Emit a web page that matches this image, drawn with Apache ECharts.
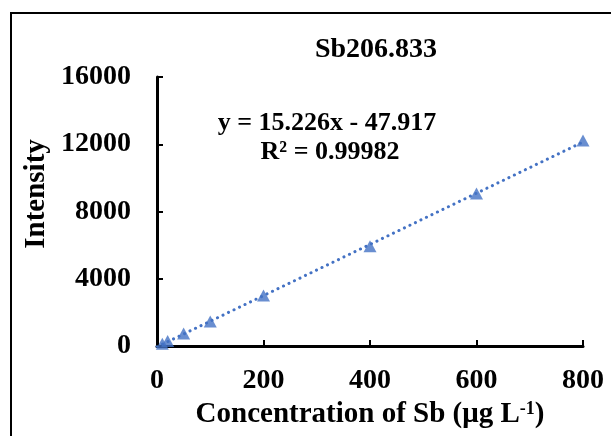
<!DOCTYPE html>
<html>
<head>
<meta charset="utf-8">
<style>
  html, body { margin: 0; padding: 0; background: #fff; }
  #chart { width: 611px; height: 436px; }
</style>
<script src="https://cdn.jsdelivr.net/npm/echarts@6/dist/echarts.min.js"></script>
</head>
<body>
<div id="chart"></div>
<script>
// calibration standards, Sb 206.833 nm
var concentration = [10, 20, 50, 100, 200, 400, 600, 800];
var intensity = [140, 290, 740, 1450, 3000, 5930, 9070, 12230];
// fitted trendline end points (y = 15.226x - 47.917)
var trendX = [0, 800];
var trendY = [-47.917, 12132.883];
var yTicks = [0, 4000, 8000, 12000, 16000];
var xTicks = [0, 200, 400, 600, 800];

var font = 'Liberation Serif, Times New Roman, serif';
var blue = '#4472C4';

var chart = echarts.init(document.getElementById('chart'));

var option = {
  animation: false,
  backgroundColor: '#fff',
  title: {
    text: 'Sb206.833',
    left: 371,
    top: 31,
    textAlign: 'center',
    textStyle: { fontFamily: font, fontWeight: 'bold', fontSize: 28, color: '#000' }
  },
  grid: { left: 157, right: 28, top: 77, bottom: 90 },
  xAxis: {
    type: 'value',
    min: xTicks[0],
    max: xTicks[xTicks.length - 1],
    interval: 200,
    name: '{a|Concentration of Sb (μg L}{s|-1}{a|)}',
    nameLocation: 'middle',
    nameGap: 53,
    nameTextStyle: {
      rich: {
        a: { fontFamily: font, fontWeight: 'bold', fontSize: 29, color: '#000' },
        s: { fontFamily: font, fontWeight: 'bold', fontSize: 18, color: '#000', verticalAlign: 'top', padding: [0, 0, 12, 0] }
      }
    },
    axisLine: { lineStyle: { color: '#000', width: 3 } },
    axisTick: { inside: true, length: 6, lineStyle: { color: '#000', width: 2 } },
    axisLabel: { margin: 21, fontFamily: font, fontWeight: 'bold', fontSize: 28, color: '#000' },
    splitLine: { show: false }
  },
  yAxis: {
    type: 'value',
    min: yTicks[0],
    max: yTicks[yTicks.length - 1],
    interval: 4000,
    axisLine: { show: true, lineStyle: { color: '#000', width: 3 } },
    axisTick: { show: true, inside: true, length: 6, lineStyle: { color: '#000', width: 2 } },
    axisLabel: {
      margin: 26, fontFamily: font, fontWeight: 'bold', fontSize: 28, color: '#000',
      formatter: function (v) { return String(v); }
    },
    splitLine: { show: false }
  },
  graphic: [
    {
      type: 'rect',
      shape: { x: 11, y: 13, width: 800, height: 600 },
      style: { fill: null, stroke: '#000', lineWidth: 2 },
      silent: true
    },
    {
      type: 'text',
      x: 37, y: 194,
      rotation: Math.PI / 2,
      style: {
        text: 'Intensity', fontFamily: font, fontWeight: 'bold', fontSize: 29, fill: '#000',
        textAlign: 'center', textVerticalAlign: 'middle'
      }
    },
    {
      type: 'text',
      x: 327, y: 123,
      style: {
        text: 'y = 15.226x - 47.917', fontFamily: font, fontWeight: 'bold', fontSize: 26, fill: '#000',
        textAlign: 'center', textVerticalAlign: 'middle'
      }
    },
    {
      type: 'text',
      x: 330, y: 152,
      style: {
        text: 'R² = 0.99982', fontFamily: font, fontWeight: 'bold', fontSize: 26, fill: '#000',
        textAlign: 'center', textVerticalAlign: 'middle'
      }
    }
  ],
  series: [
    {
      type: 'line',
      data: trendX.map(function (x, i) { return [x, trendY[i]]; }),
      showSymbol: false,
      symbol: 'none',
      lineStyle: { color: blue, width: 3, type: [0.1, 6], cap: 'round' },
      z: 2
    },
    {
      type: 'scatter',
      data: concentration.map(function (x, i) { return [x, intensity[i]]; }),
      symbol: 'triangle',
      symbolSize: [13, 12],
      itemStyle: { color: blue },
      z: 3
    }
  ]
};

chart.setOption(option);
</script>
</body>
</html>
